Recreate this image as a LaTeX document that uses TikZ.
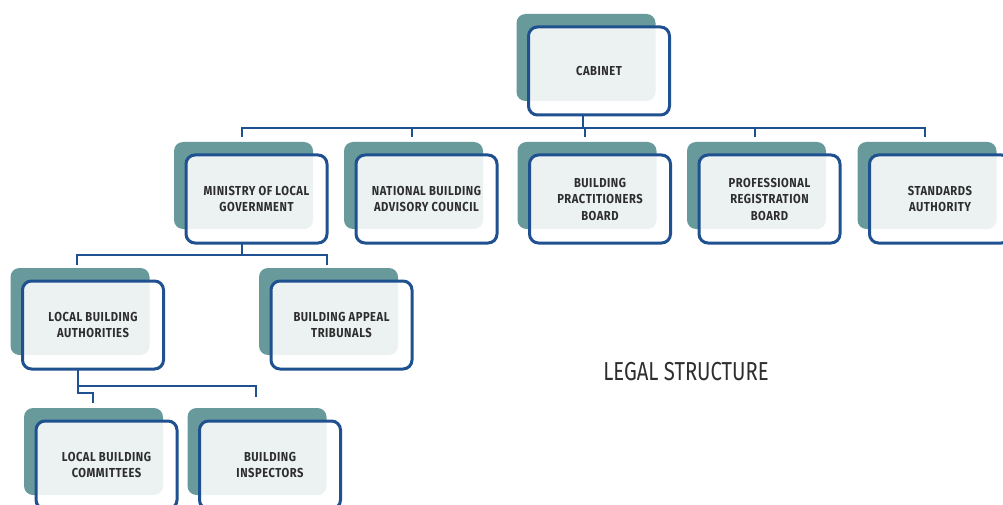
\documentclass[tikz,border=0pt]{standalone}
\usepackage{fontspec}
\setmainfont{Fira Sans}
\newfontfamily\boxfont{Fira Sans}[FakeStretch=0.86,LetterSpace=4]
\newfontfamily\headfont{Fira Sans}[FakeStretch=0.78]
\usepackage{tikz}
\usetikzlibrary{calc}
\usetikzlibrary{backgrounds}

\definecolor{platecol}{HTML}{689A9C}
\definecolor{frame}{HTML}{1F5190}
\definecolor{ink}{HTML}{2E2E2E}

\tikzset{
  unit/.style={draw=frame, line width=3pt, rounded corners=9pt,
    fill=white, fill opacity=0.88, text opacity=1, text=ink,
    minimum width=141pt, minimum height=88pt, inner sep=0pt, outer sep=0pt,
    align=center, font=\boxfont\bfseries\fontsize{13}{16.5}\selectfont},
  link/.style={draw=frame, line width=2pt},
}

\begin{document}
\begin{tikzpicture}[x=1pt,y=-1pt]
    \useasboundingbox (0,0) rectangle (1003,505);
    \clip (0,0) rectangle (1003,505);

    % boxes
    \node[unit] (cab)  at (599,   71) {CABINET};
    \node[unit] (mlg)  at (256.5,199) {MINISTRY OF LOCAL\\GOVERNMENT};
    \node[unit] (nbac) at (426.5,199) {NATIONAL BUILDING\\ADVISORY COUNCIL};
    \node[unit] (bpb)  at (600,  199) {BUILDING\\PRACTITIONERS\\BOARD};
    \node[unit] (prb)  at (769.5,199) {PROFESSIONAL\\REGISTRATION\\BOARD};
    \node[unit] (sa)   at (940,  199) {STANDARDS\\AUTHORITY};
    \node[unit] (lba)  at (93,   325) {LOCAL BUILDING\\AUTHORITIES};
    \node[unit] (bat)  at (341.5,325) {BUILDING APPEAL\\TRIBUNALS};
    \node[unit] (lbc)  at (106.5,465) {LOCAL BUILDING\\COMMITTEES};
    \node[unit] (bi)   at (270,  465) {BUILDING\\INSPECTORS};

    \node[font=\headfont\fontsize{26}{30}\selectfont, text=ink] (title) at (686,372) {LEGAL STRUCTURE};

    % teal plates behind each box
    \begin{scope}[on background layer]
      \foreach \n in {cab,mlg,nbac,bpb,prb,sa,lba,bat,lbc,bi}
        \fill[platecol, rounded corners=9pt]
          ([xshift=-12pt,yshift=13pt]\n.north west) rectangle ([xshift=-14pt,yshift=14pt]\n.south east);
    \end{scope}

    % cabinet to boards
    \coordinate (busA) at (0,128);
    \draw[link] ([xshift=-16pt]cab.south) -- ([xshift=-16pt]cab.south |- busA);
    \draw[link] ([xshift=-15pt,yshift=18pt]mlg.north) -- ([xshift=-15pt]mlg.north |- busA)
      -- ([xshift=-15pt]sa.north |- busA) -- ([xshift=-15pt,yshift=18pt]sa.north);
    \foreach \n in {nbac,bpb,prb}
      \draw[link] ([xshift=-15pt]\n.north |- busA) -- ([xshift=-15pt,yshift=18pt]\n.north);

    % ministry to authorities and tribunals
    \coordinate (busB) at (0,255);
    \draw[link] ([xshift=-14.5pt]mlg.south) -- ([xshift=-14.5pt]mlg.south |- busB);
    \draw[link] ([xshift=-16pt,yshift=16pt]lba.north) -- ([xshift=-16pt]lba.north |- busB)
      -- ([xshift=-14.5pt]bat.north |- busB) -- ([xshift=-14.5pt,yshift=16pt]bat.north);

    % authorities to committees and inspectors
    \draw[link] ([xshift=-15pt]lba.south) -- ++(0,24) -| ([xshift=-13.5pt,yshift=18pt]lbc.north);
    \draw[link] ([xshift=-15pt,yshift=-17pt]lba.south) -| ([xshift=-14pt,yshift=24pt]bi.north);
\end{tikzpicture}
\end{document}
